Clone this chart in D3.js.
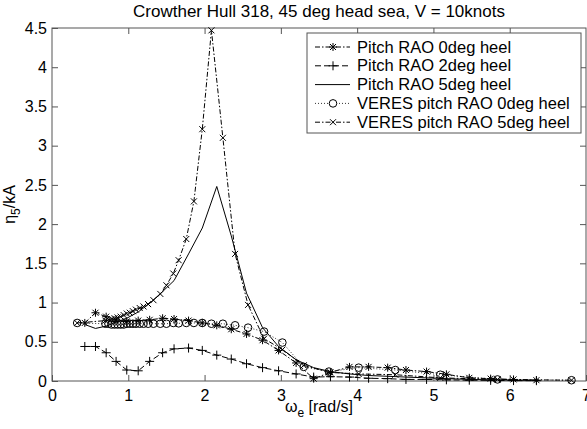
<!DOCTYPE html>
<html>
<head>
<meta charset="utf-8">
<script src="https://cdn.jsdelivr.net/npm/d3@7"></script>
<style>
  html, body { margin: 0; padding: 0; background: #fff; }
  svg { display: block; }
  text { font-family: "Liberation Sans", Arial, Helvetica, sans-serif; fill: #000; }
</style>
</head>
<body>
<script>
// Encounter-frequency grid of the strip-theory runs (rad/s)
const freqGrid = [0.43, 0.57, 0.71, 0.84, 0.98, 1.13, 1.28, 1.45, 1.60, 1.79, 1.97, 2.16, 2.35, 2.55,
  2.76, 2.97, 3.20, 3.43, 3.65, 3.90, 4.15, 4.40, 4.64, 4.91, 5.17, 5.47, 5.75, 6.05, 6.35];
const pitch0 = [0.74, 0.87, 0.82, 0.78, 0.76, 0.77, 0.78, 0.80, 0.79, 0.77, 0.74, 0.71, 0.66, 0.60,
  0.52, 0.39, 0.23, 0.03, 0.11, 0.18, 0.18, 0.17, 0.14, 0.12, 0.085, 0.04, 0.03, 0.02, 0.01];
const pitch2 = [0.44, 0.44, 0.36, 0.25, 0.14, 0.13, 0.25, 0.36, 0.41, 0.42, 0.39, 0.33, 0.28, 0.22,
  0.17, 0.13, 0.09, 0.05, 0.055, 0.05, 0.035, 0.03, 0.02, 0.02, 0.015, 0.01, 0.008, 0.005, 0.004];
const pitch5 = [0.72, 0.67, 0.70, 0.75, 0.80, 0.88, 0.99, 1.14, 1.28, 1.62, 1.95, 2.48, 1.85, 1.12,
  0.68, 0.44, 0.27, 0.17, 0.12, 0.09, 0.07, 0.06, 0.05, 0.04, 0.03, 0.02, 0.015, 0.01, 0.01];

// Encounter-frequency grid of the VERES runs (rad/s)
const veresFreq = [0.33, 0.70, 0.74, 0.78, 0.82, 0.86, 0.90, 0.94, 0.98, 1.02, 1.06, 1.10, 1.15, 1.20,
  1.26, 1.33, 1.42, 1.50, 1.59, 1.66, 1.76, 1.86, 1.97, 2.09, 2.24, 2.40, 2.57, 2.78, 3.02, 3.30,
  3.63, 4.02, 4.50, 5.09, 5.84, 6.81];
const veres0 = [0.74, 0.73, 0.73, 0.72, 0.72, 0.72, 0.72, 0.72, 0.73, 0.73, 0.73, 0.73, 0.73, 0.73,
  0.73, 0.73, 0.73, 0.73, 0.74, 0.735, 0.74, 0.74, 0.74, 0.73, 0.73, 0.71, 0.68, 0.63, 0.49, 0.18,
  0.12, 0.17, 0.14, 0.08, 0.02, 0.01];
const veres5 = [0.74, 0.77, 0.78, 0.79, 0.80, 0.81, 0.82, 0.84, 0.86, 0.87, 0.89, 0.91, 0.93, 0.95,
  0.98, 1.03, 1.11, 1.22, 1.37, 1.54, 1.81, 2.29, 3.21, 4.47, 3.10, 1.62, 0.97, 0.54, 0.40, 0.20,
  0.11, 0.09, 0.08, 0.04, 0.02, 0.01];

const xTicks = [0, 1, 2, 3, 4, 5, 6, 7];
const yTicks = [0, 0.5, 1, 1.5, 2, 2.5, 3, 3.5, 4, 4.5];
const seriesNames = ["Pitch RAO 0deg heel", "Pitch RAO 2deg heel", "Pitch RAO 5deg heel",
  "VERES pitch RAO 0deg heel", "VERES pitch RAO 5deg heel"];

const W = 587, H = 429;
const m = { left: 52, right: 1, top: 28, bottom: 48 };

const svg = d3.select("body").append("svg").attr("width", W).attr("height", H);

const x = d3.scaleLinear().domain([0, 7]).range([m.left, W - m.right]);
const y = d3.scaleLinear().domain([0, 4.5]).range([H - m.bottom, m.top]);

const axisColor = "#555";
const tickLen = 6;

// Box frame with inward ticks on all four sides
const frame = svg.append("g");
frame.append("rect")
  .attr("x", x(0)).attr("y", y(4.5))
  .attr("width", x(7) - x(0)).attr("height", y(0) - y(4.5))
  .attr("fill", "none").attr("stroke", axisColor).attr("stroke-width", 1);

const styleAxis = g => {
  g.select(".domain").remove();
  g.selectAll(".tick line").attr("stroke", axisColor);
  g.selectAll(".tick text").attr("font-size", 16).attr("fill", "#000")
    .style("font-family", '"Liberation Sans", Arial, sans-serif');
};

svg.append("g").attr("transform", `translate(0,${y(0)})`)
  .call(d3.axisBottom(x).tickValues(xTicks).tickFormat(d3.format("d"))
    .tickSizeInner(-tickLen).tickSizeOuter(0).tickPadding(9))
  .call(styleAxis);
svg.append("g").attr("transform", `translate(0,${y(4.5)})`)
  .call(d3.axisTop(x).tickValues(xTicks.slice(1, -1)).tickFormat("")
    .tickSizeInner(-tickLen).tickSizeOuter(0))
  .call(styleAxis);
svg.append("g").attr("transform", `translate(${x(0)},0)`)
  .call(d3.axisLeft(y).tickValues(yTicks).tickFormat(d => String(d))
    .tickSizeInner(-tickLen).tickSizeOuter(0).tickPadding(5))
  .call(styleAxis);
svg.append("g").attr("transform", `translate(${x(7)},0)`)
  .call(d3.axisRight(y).tickValues(yTicks.slice(1, -1)).tickFormat("")
    .tickSizeInner(-tickLen).tickSizeOuter(0))
  .call(styleAxis);

// Marker glyphs
function markerPath(type, cx, cy) {
  const p = d3.path();
  if (type === "star") {
    const r = 4, d = 3;
    p.moveTo(cx - r, cy); p.lineTo(cx + r, cy);
    p.moveTo(cx, cy - r); p.lineTo(cx, cy + r);
    p.moveTo(cx - d, cy - d); p.lineTo(cx + d, cy + d);
    p.moveTo(cx - d, cy + d); p.lineTo(cx + d, cy - d);
  } else if (type === "plus") {
    const r = 4.5;
    p.moveTo(cx - r, cy); p.lineTo(cx + r, cy);
    p.moveTo(cx, cy - r); p.lineTo(cx, cy + r);
  } else if (type === "cross") {
    const d = 3;
    p.moveTo(cx - d, cy - d); p.lineTo(cx + d, cy + d);
    p.moveTo(cx - d, cy + d); p.lineTo(cx + d, cy - d);
  } else if (type === "circle") {
    p.moveTo(cx + 3.8, cy); p.arc(cx, cy, 3.8, 0, 2 * Math.PI);
  }
  return p.toString();
}

const series = [
  { name: seriesNames[0], xs: freqGrid, ys: pitch0, dash: "5,2,1.5,2", marker: "star", color: "#000" },
  { name: seriesNames[1], xs: freqGrid, ys: pitch2, dash: "6,3", marker: "plus", color: "#000" },
  { name: seriesNames[2], xs: freqGrid, ys: pitch5, dash: null, marker: null, color: "#000" },
  { name: seriesNames[3], xs: veresFreq, ys: veres0, dash: "1,2", marker: "circle", color: "#000" },
  { name: seriesNames[4], xs: veresFreq, ys: veres5, dash: "5,2,1.5,2", marker: "cross", color: "#000" }
];

const line = d3.line().x(d => x(d[0])).y(d => y(d[1]));
const plot = svg.append("g");

series.forEach(s => {
  const pts = s.xs.map((v, i) => [v, s.ys[i]]);
  plot.append("path").datum(pts)
    .attr("d", line).attr("fill", "none").attr("stroke", s.color)
    .attr("stroke-width", s.dash === "1,2" ? 0.8 : 1)
    .attr("stroke-dasharray", s.dash);
  if (s.marker) {
    plot.append("g").selectAll("path").data(pts).join("path")
      .attr("d", d => markerPath(s.marker, x(d[0]), y(d[1])))
      .attr("fill", "none").attr("stroke", s.color).attr("stroke-width", 1);
  }
});

// Legend
const lg = svg.append("g");
const lx0 = 307, ly0 = 33, lw = 274, lh = 100;
lg.append("rect").attr("x", lx0).attr("y", ly0).attr("width", lw).attr("height", lh)
  .attr("fill", "#fff").attr("stroke", axisColor).attr("stroke-width", 1);
series.forEach((s, i) => {
  const cy = ly0 + 14 + i * 18.8;
  lg.append("line").attr("x1", lx0 + 8).attr("x2", lx0 + 43)
    .attr("y1", cy).attr("y2", cy)
    .attr("stroke", s.color).attr("stroke-width", s.dash === "1,2" ? 0.8 : 1)
    .attr("stroke-dasharray", s.dash);
  if (s.marker) {
    lg.append("path").attr("d", markerPath(s.marker, lx0 + 26, cy))
      .attr("fill", s.marker === "circle" ? "#fff" : "none")
      .attr("stroke", s.color).attr("stroke-width", 1);
  }
  lg.append("text").attr("x", lx0 + 50).attr("y", cy + 5.5)
    .attr("font-size", 16.5).text(s.name);
});

// Title
svg.append("text").attr("x", (x(0) + x(7)) / 2).attr("y", 17)
  .attr("text-anchor", "middle").attr("font-size", 17)
  .text("Crowther Hull 318, 45 deg head sea, V = 10knots");

// Axis labels
const xl = svg.append("text").attr("x", (x(0) + x(7)) / 2).attr("y", 412)
  .attr("text-anchor", "middle").attr("font-size", 16);
xl.append("tspan").text("ω");
xl.append("tspan").attr("font-size", 12).attr("dy", 5).text("e");
xl.append("tspan").attr("dy", -5).text(" [rad/s]");

const yl = svg.append("text")
  .attr("transform", `translate(15,${(y(0) + y(4.5)) / 2}) rotate(-90)`)
  .attr("text-anchor", "middle").attr("font-size", 16);
yl.append("tspan").text("η");
yl.append("tspan").attr("font-size", 12).attr("dy", 5).text("5");
yl.append("tspan").attr("dy", -5).text("/kA");
</script>
</body>
</html>
